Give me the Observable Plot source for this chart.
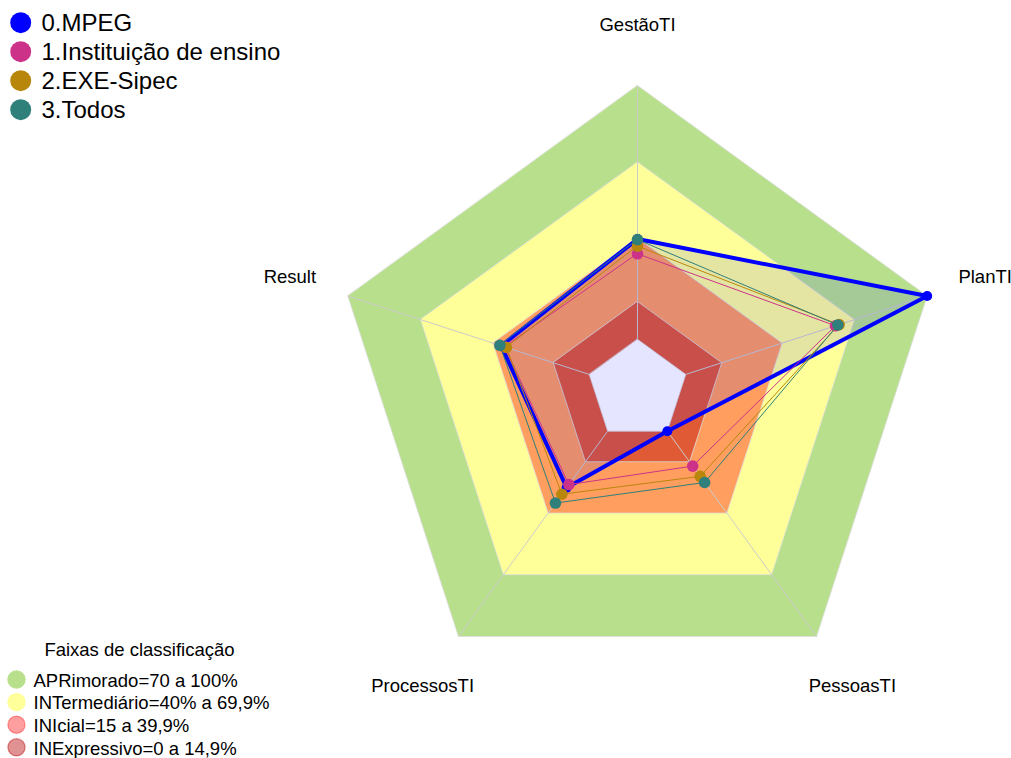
<!DOCTYPE html>
<html>
<head>
<meta charset="utf-8">
<script src="https://cdn.jsdelivr.net/npm/d3@7"></script>
<script src="https://cdn.jsdelivr.net/npm/@observablehq/plot@0.6"></script>
<style>
  html, body { margin: 0; padding: 0; background: #ffffff; }
  #wrap { position: relative; width: 1011px; height: 758px; overflow: hidden; font-family: "Liberation Sans", Arial, sans-serif; }
  #wrap svg { position: absolute; left: 0; top: 0; }
</style>
</head>
<body>
<div id="wrap"></div>
<script>
// ---------- data ----------
const axes = ["GestãoTI", "PlanTI", "PessoasTI", "ProcessosTI", "Result"];

const seriesNames = ["0.MPEG", "1.Instituição de ensino", "2.EXE-Sipec", "3.Todos"];
const seriesColors = ["#0000ff", "#cc3388", "#b8860b", "#2f7f7b"];
const mpeg        = [39.5, 100, 0, 27.5, 36.5];
const instituicao = [33.7, 62, 17, 26, 35];
const exeSipec    = [36.7, 63.5, 22, 30.7, 34.3];
const todos       = [39.3, 63, 25, 35, 37];
const seriesValues = [mpeg, instituicao, exeSipec, todos];

const bandTitle = "Faixas de classificação";
const bandNames = ["APRimorado=70 a 100%", "INTermediário=40% a 69,9%", "INIcial=15 a 39,9%", "INExpressivo=0 a 14,9%"];
const bandValues = [100, 69.9, 39.9, 14.9];
const bandColors = ["#b8e08c", "#ffff99", "rgba(255,0,0,0.38)", "rgba(183,0,0,0.43)"];

const scaleMin = 0, scaleMax = 100, segments = 5;

// ---------- geometry helpers ----------
const W = 1011, H = 758, R = 304.6, CX = 637, CY = 389.6;
function rad(v) { return (1 + segments * (v - scaleMin) / (scaleMax - scaleMin)) / (segments + 1); }
function pt(i, r) {
  const a = i * 2 * Math.PI / axes.length;
  return { x: r * Math.sin(a), y: r * Math.cos(a) };
}
function polygon(values) { return axes.map((a, i) => ({ axis: a, value: values[i], ...pt(i, rad(values[i])) })); }

const marks = [];
// bands
bandValues.forEach((v, k) => {
  marks.push(Plot.line(polygon(axes.map(() => v)), {
    x: "x", y: "y", curve: "linear-closed", fill: bandColors[k], stroke: "#dcdcdc", strokeWidth: 0.8
  }));
});
// white centre (below the scale minimum)
marks.push(Plot.line(polygon(axes.map(() => scaleMin)), {
  x: "x", y: "y", curve: "linear-closed", fill: "#ffffff", stroke: "#dcdcdc", strokeWidth: 0.8
}));
// radial axis lines
const spokes = axes.map((a, i) => {
  const p0 = pt(i, rad(scaleMin)), p1 = pt(i, rad(scaleMax));
  return { axis: a, x1: p0.x, y1: p0.y, x2: p1.x, y2: p1.y };
});
marks.push(Plot.link(spokes, { x1: "x1", y1: "y1", x2: "x2", y2: "y2", stroke: "#cccccc", strokeWidth: 1 }));
// MPEG translucent fill
marks.push(Plot.line(polygon(mpeg), {
  x: "x", y: "y", curve: "linear-closed", fill: "#0000ff", fillOpacity: 0.1, stroke: "none"
}));
// series lines + points
seriesValues.forEach((vals, s) => {
  const pts = polygon(vals);
  marks.push(Plot.line(pts, {
    x: "x", y: "y", curve: "linear-closed", stroke: seriesColors[s],
    strokeWidth: s === 0 ? 4 : 1, fill: "none", strokeLinejoin: "round"
  }));
  marks.push(Plot.dot(pts, { x: "x", y: "y", r: s === 0 ? 5 : 5.8, fill: seriesColors[s], stroke: "none" }));
});
// axis labels
const labels = axes.map((a, i) => ({ axis: a, ...pt(i, 1.2) }));
marks.push(Plot.text(labels, { x: "x", y: "y", text: "axis", fill: "#000000", fontSize: 18.5, textAnchor: "middle", lineAnchor: "middle" }));

const chart = Plot.plot({
  width: W, height: H, margin: 0,
  x: { domain: [-CX / R, (W - CX) / R], range: [0, W], axis: null },
  y: { domain: [-(H - CY) / R, CY / R], range: [H, 0], axis: null },
  style: { fontFamily: "Liberation Sans, Arial, sans-serif", background: "#ffffff", overflow: "visible" },
  marks
});
document.getElementById("wrap").appendChild(chart);

// ---------- legends (overlay) ----------
const leg = d3.create("svg").attr("width", W).attr("height", H)
  .style("font-family", "Liberation Sans, Arial, sans-serif").style("pointer-events", "none");
const legTop = leg.append("g");
seriesNames.forEach((n, i) => {
  const yc = 22.7 + i * 29;
  legTop.append("circle").attr("cx", 20.7).attr("cy", yc).attr("r", 10.5).attr("fill", seriesColors[i]);
  legTop.append("text").attr("x", 41.5).attr("y", yc + 8).attr("font-size", 24).attr("fill", "#000").text(n);
});
const legBot = leg.append("g");
legBot.append("text").attr("x", 139.5).attr("y", 656).attr("text-anchor", "middle").attr("font-size", 18.5).attr("fill", "#000").text(bandTitle);
bandNames.forEach((n, i) => {
  const yc = 679.5 + i * 22.6;
  legBot.append("circle").attr("cx", 16.5).attr("cy", yc).attr("r", 8.6)
    .attr("fill", bandColors[i]).attr("stroke", bandColors[i]).attr("stroke-width", 1.2);
  legBot.append("text").attr("x", 33.5).attr("y", yc + 7.2).attr("font-size", 18.5).attr("fill", "#000").text(n);
});
document.getElementById("wrap").appendChild(leg.node());
</script>
</body>
</html>
